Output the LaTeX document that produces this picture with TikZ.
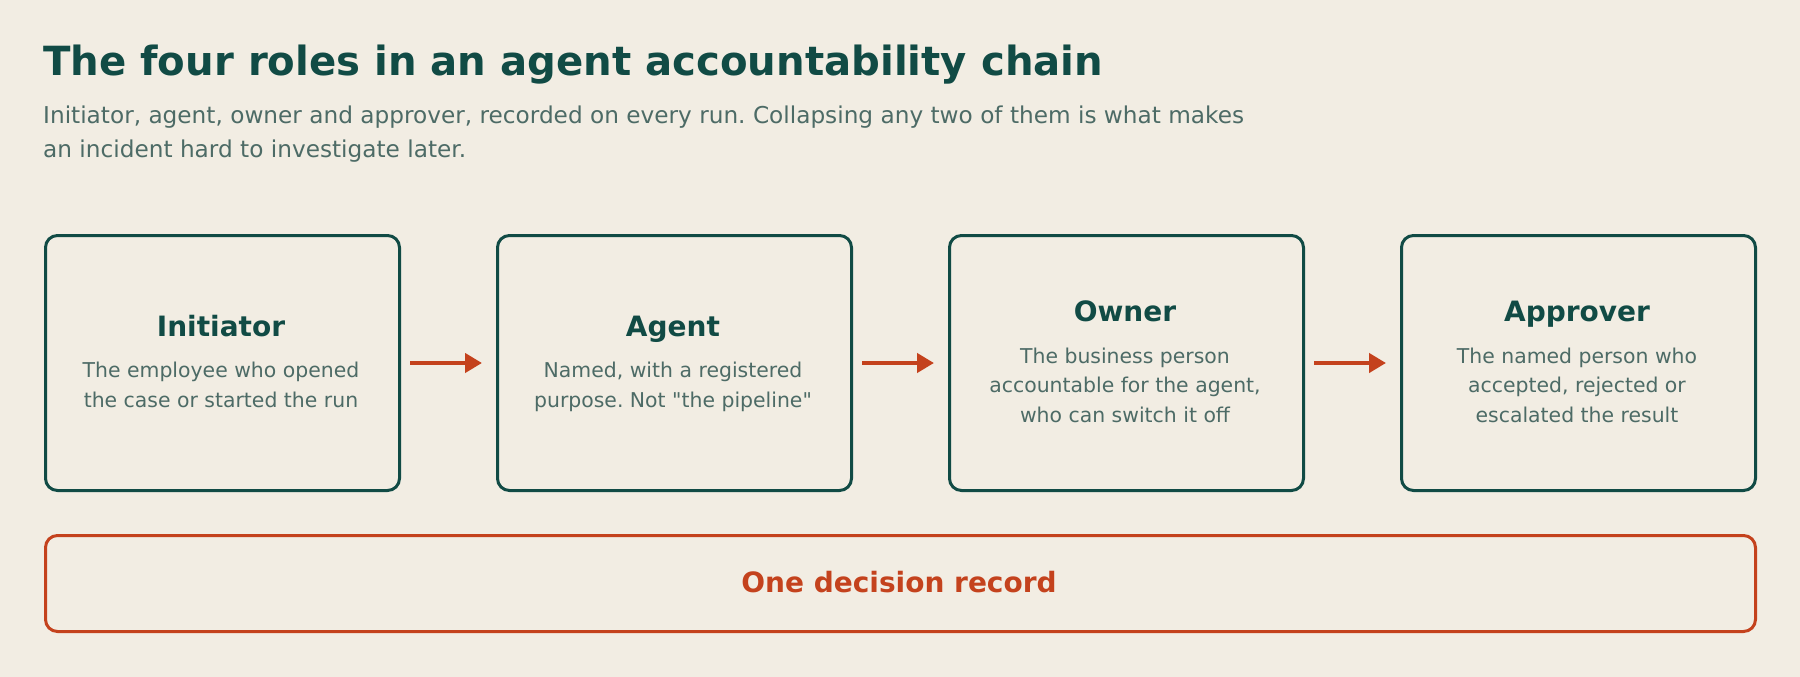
\documentclass[tikz,border=0pt]{standalone}
\usepackage{fontspec}
\setmainfont{DejaVu Sans}[Ligatures=TeXOff]
\usetikzlibrary{arrows.meta}
\frenchspacing
\definecolor{bg}{HTML}{F2EDE3}
\definecolor{ink}{HTML}{114B45}
\definecolor{sub}{HTML}{4D6B66}
\definecolor{rust}{HTML}{C4421D}
\tikzset{
  rolebox/.style={draw=ink, line width=3pt, rounded corners=12pt, minimum width=354pt, minimum height=255pt, inner sep=0pt, anchor=north west},
  roletitle/.style={anchor=base, inner sep=0pt, text=ink, font=\bfseries\fontsize{28}{34}\selectfont},
  rolebody/.style={anchor=base, inner sep=0pt, text=sub, font=\fontsize{20.4}{30}\selectfont},
  flow/.style={draw=rust, line width=4.5pt, -{Triangle[length=17pt,width=19pt]}},
  recbox/.style={draw=rust, line width=3pt, rounded corners=12pt, minimum width=1710pt, minimum height=96pt, inner sep=0pt, anchor=north west}
}
\begin{document}
\begin{tikzpicture}[x=1pt,y=-1pt]
\useasboundingbox[fill=bg] (0,0) rectangle (1800,677);
% heading
\node[anchor=base west, inner sep=0pt, text=ink, font=\bfseries\fontsize{40.2}{48}\selectfont] (title) at (43,75) {The four roles in an agent accountability chain};
\node[anchor=base west, inner sep=0pt, text=sub, font=\fontsize{23.2}{34}\selectfont] (sub1) at (43,123) {Initiator, agent, owner and approver, recorded on every run. Collapsing any two of them is what makes};
\node[anchor=base west, inner sep=0pt, text=sub, font=\fontsize{23.2}{34}\selectfont] (sub2) at (43,157) {an incident hard to investigate later.};
% boxes
\node[rolebox] (b1) at (44,234) {};
\node[rolebox] (b2) at (496,234) {};
\node[rolebox] (b3) at (948,234) {};
\node[rolebox] (b4) at (1400,234) {};
% box 1
\node[roletitle] (t1) at (221,336) {Initiator};
\node[rolebody] (b1a) at (221,377) {The employee who opened};
\node[rolebody] (b1b) at (221,407) {the case or started the run};
% box 2
\node[roletitle] (t2) at (673,336) {Agent};
\node[rolebody] (b2a) at (673,377) {Named, with a registered};
\node[rolebody] (b2b) at (673,407) {purpose. Not "the pipeline"};
% box 3
\node[roletitle] (t3) at (1125,321) {Owner};
\node[rolebody] (b3a) at (1125,363) {The business person};
\node[rolebody] (b3b) at (1125,392.5) {accountable for the agent,};
\node[rolebody] (b3c) at (1125,422) {who can switch it off};
% box 4
\node[roletitle] (t4) at (1577,321) {Approver};
\node[rolebody] (b4a) at (1577,363) {The named person who};
\node[rolebody] (b4b) at (1577,392.5) {accepted, rejected or};
\node[rolebody] (b4c) at (1577,422) {escalated the result};
% arrows
\draw[flow] ([xshift=9pt]b1.east) -- ([xshift=-14pt]b2.west);
\draw[flow] ([xshift=9pt]b2.east) -- ([xshift=-14pt]b3.west);
\draw[flow] ([xshift=9pt]b3.east) -- ([xshift=-14pt]b4.west);
% record
\node[recbox] (rec) at (44,534) {};
\node[anchor=base, inner sep=0pt, text=rust, font=\bfseries\fontsize{28}{34}\selectfont] (rect) at (899,592) {One decision record};
\end{tikzpicture}
\end{document}
